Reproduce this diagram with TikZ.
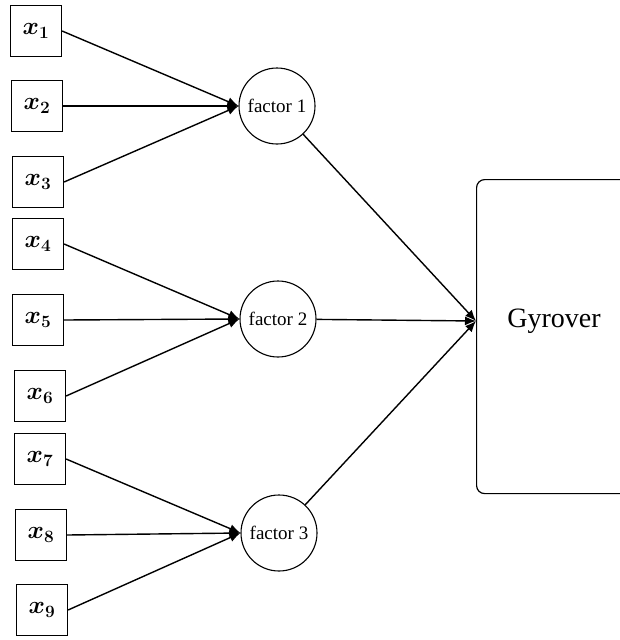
\documentclass[tikz,border=0pt]{standalone}
\usepackage{fontspec}
\setmainfont{Liberation Serif}
\usetikzlibrary{arrows.meta}
\begin{document}
\begin{tikzpicture}[x=1pt,y=-1pt,line width=1.4pt,>={Latex[length=11pt,width=9pt]},
  inbox/.style={draw,minimum size=51pt,inner sep=0pt,line width=1.2pt,font=\fontsize{25}{29}\selectfont\boldmath},
  factor/.style={draw,circle,minimum size=76pt,inner sep=0pt,line width=1.1pt,font=\fontsize{19}{22}\selectfont}]
\useasboundingbox (0,0) rectangle (620,640);
\clip (0,0) rectangle (620,640);
\foreach \i/\xx/\yy in {1/36/31,2/37/106,3/38/182,4/38/244,5/38/320,6/40/396,7/40/459,8/41/535,9/42/610}
  \node[inbox] (x\i) at (\xx,\yy) {$x_{\i}$};
\foreach \j/\xx/\yy in {1/277/106,2/278/319,3/279/533}
  \node[factor] (f\j) at (\xx,\yy) {factor \j};
\foreach \i/\j in {1/1,2/1,3/1,4/2,5/2,6/2,7/3,8/3,9/3}
  \draw[->] (x\i.east) -- (f\j.west);
\node[draw,rounded corners=8pt,minimum width=160pt,minimum height=314pt,inner sep=0pt,line width=1.2pt,anchor=north west] (gyro) at (476,179) {};
\node[font=\fontsize{28}{32}\selectfont] (gtext) at (554,321) {Gyrover};
\foreach \j in {1,2,3}
  \draw[->] (f\j) -- (gtext -| gyro.west);
\end{tikzpicture}
\end{document}
